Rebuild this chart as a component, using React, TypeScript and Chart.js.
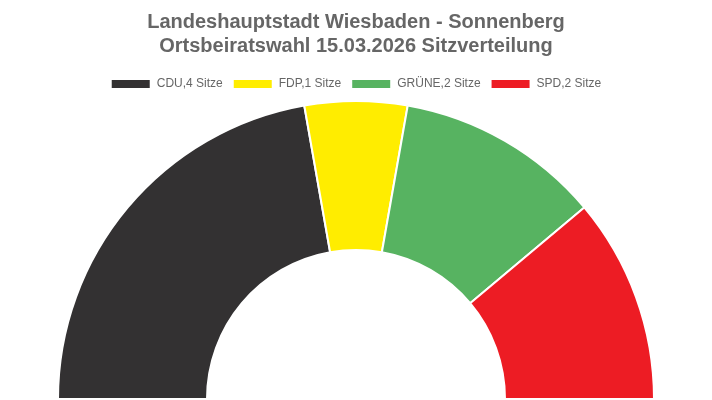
import React, { useEffect, useRef } from "react";
import { Chart, registerables } from "chart.js";

Chart.register(...registerables);

const titleLines = ["Landeshauptstadt Wiesbaden - Sonnenberg", "Ortsbeiratswahl 15.03.2026 Sitzverteilung"];
const parties = ["CDU", "FDP", "GRÜNE", "SPD"];
const seats = [4, 1, 2, 2];
const colors = ["#333132", "#ffed00", "#57b361", "#ed1c24"];
const legendLabels = parties.map((p, i) => `${p},${seats[i]} Sitze`);

export default function App() {
  const ref = useRef<HTMLCanvasElement | null>(null);
  useEffect(() => {
    if (!ref.current) return;
    const chart = new Chart(ref.current, {
      type: "doughnut",
      data: {
        labels: legendLabels,
        datasets: [
          {
            data: seats,
            backgroundColor: colors,
            borderColor: "#ffffff",
            borderWidth: 2,
          },
        ],
      },
      options: {
        animation: false,
        responsive: true,
        maintainAspectRatio: false,
        rotation: -90,
        circumference: 180,
        cutout: "50%",
        layout: { padding: { top: 0, bottom: 0, left: 8, right: 8 } },
        plugins: {
          title: {
            display: true,
            text: titleLines,
            color: "#666666",
            font: { family: "Arial, 'Liberation Sans', sans-serif", size: 20, weight: "bold", lineHeight: 1.2 },
            padding: { top: 10, bottom: 10 },
          },
          legend: {
            display: true,
            position: "top",
            labels: {
              color: "#666666",
              boxWidth: 40,
              boxHeight: 10,
              font: { family: "Arial, 'Liberation Sans', sans-serif", size: 12 },
            },
          },
          tooltip: { enabled: false },
        },
      },
    });
    return () => chart.destroy();
  }, []);
  return (
    <div style={{ position: "absolute", left: 0, top: 0, width: 712, height: 400, background: "#fff" }}>
      <canvas ref={ref} />
    </div>
  );
}
